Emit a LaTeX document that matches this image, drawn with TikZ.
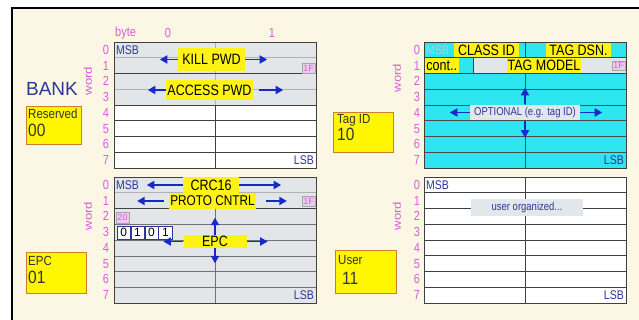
\documentclass[tikz,border=0pt]{standalone}
\usepackage{fontspec}
\setmainfont{Liberation Sans}
\usetikzlibrary{positioning, arrows.meta}

\definecolor{cream}{RGB}{252,246,229}
\definecolor{rowgray}{RGB}{226,230,233}
\definecolor{tagcyan}{RGB}{45,230,240}
\definecolor{hlyellow}{RGB}{255,242,20}
\definecolor{boxyellow}{RGB}{255,246,0}
\definecolor{boxedge}{RGB}{205,125,45}
\definecolor{textblue}{RGB}{45,55,150}
\definecolor{msbfade}{RGB}{195,195,225}
\definecolor{arrowblue}{RGB}{25,40,200}
\definecolor{wordmag}{RGB}{215,95,215}
\definecolor{pinkbg}{RGB}{236,205,236}
\definecolor{notegray}{RGB}{226,231,236}

\begin{document}
\begin{tikzpicture}[
    x=1pt, y=-1pt,
    grid/.style={draw=black!75, line width=0.8pt},
    faint/.style={draw=black!30, line width=0.5pt},
    midgrid/.style={draw=black!55, line width=0.5pt},
    cyangrid/.style={draw=black!70, line width=0.7pt},
    num/.style={text=wordmag, font=\fontsize{11}{11}\selectfont, inner sep=0pt, yscale=1.2},
    msb/.style={text=textblue, font=\fontsize{10.5}{10.5}\selectfont, inner sep=1pt, yscale=1.2},
    hl/.style={fill=hlyellow, font=\fontsize{12.5}{12.5}\selectfont, inner xsep=1pt, inner ysep=0pt, yscale=1.2},
    note/.style={fill=notegray, text=textblue, font=\fontsize{9.5}{9.5}\selectfont, inner sep=0pt, yscale=1.2},
    onef/.style={draw=black!35, fill=pinkbg, text=wordmag, font=\fontsize{9}{9}\selectfont,
                 inner sep=0pt, minimum width=13pt, minimum height=9.5pt},
    bit/.style={draw=textblue, line width=0.7pt, fill=white, font=\fontsize{12}{12}\selectfont,
                inner sep=0pt, minimum width=13.25pt, minimum height=13pt},
    bankbox/.style={draw=boxedge, fill=boxyellow, line width=1pt, anchor=north west, inner sep=0pt},
    boxtxt/.style={text=black!80, anchor=north west, inner sep=0pt, font=\fontsize{11.5}{11.5}\selectfont, yscale=1.15},
    boxnum/.style={boxtxt, font=\fontsize{15.5}{15.5}\selectfont},
    arrow/.style={-{Triangle[length=7.5pt, width=8pt]}, draw=arrowblue, line width=1.7pt}
]
  \useasboundingbox (0,0) rectangle (639,320);
  \fill[white] (0,0) rectangle (639,320);
  \fill[cream] (12,8) rectangle (639,320);
  \draw[line width=1.3pt] (12,320) -- (12,8) -- (639,8);

  % bank names
  \node[text=textblue, font=\fontsize{19}{19}\selectfont, inner sep=0pt] (bank) at (52,89) {BANK};
  \node[bankbox, minimum width=55pt, minimum height=38pt] (resbox) at (26,106) {};
  \node[boxtxt] (restxt) at (28,109) {Reserved};
  \node[boxnum] (resnum) at (28,124) {00};
  \node[bankbox, minimum width=60pt, minimum height=41pt] (epcbox) at (26,252) {};
  \node[boxtxt] (epctxt) at (28,256) {EPC};
  \node[boxnum] (epcnum) at (28,271) {01};
  \node[bankbox, minimum width=60pt, minimum height=40pt] (tidbox) at (333,112) {};
  \node[boxtxt] (tidtxt) at (337,114) {Tag ID};
  \node[boxnum] (tidnum) at (337,128) {10};
  \node[bankbox, minimum width=61pt, minimum height=43pt] (userbox) at (335,250) {};
  \node[boxtxt] (usertxt) at (338,255) {User};
  \node[boxnum] (usernum) at (342,272) {11};

  % byte and word numbering
  \node[num, anchor=west] (byte) at (115,33) {byte};
  \node[num] (byte0) at (168,33) {0};
  \node[num] (byte1) at (272,33) {1};
  \node[num, rotate=90] (worda) at (88,81) {word};
  \node[num, rotate=90] (wordb) at (88,216) {word};
  \node[num, rotate=90] (wordc) at (397,78) {word};
  \node[num, rotate=90] (wordd) at (397,216) {word};
  \foreach \i in {0,...,7} {
    \node[num] (na\i) at (106,{49.875+15.75*\i}) {\i};
    \node[num] (nb\i) at (106,{184.875+15.75*\i}) {\i};
    \node[num] (nc\i) at (417,{49.875+15.75*\i}) {\i};
    \node[num] (nd\i) at (417,{184.875+15.75*\i}) {\i};
  }

  % reserved memory
  \fill[rowgray] (114,42) rectangle (316,105);
  \fill[white] (114,105) rectangle (316,168);
  \draw[faint] (114,57.75) -- (316,57.75) (114,89.25) -- (316,89.25) (215,42) -- (215,105);
  \foreach \y in {73.5,105,120.75,136.5,152.25}
    \draw[grid] (114,\y) -- (316,\y);
  \draw[grid] (215,105) -- (215,168) (114,42) rectangle (316,168);
  \node[msb, anchor=west] (msba) at (115,49.9) {MSB};
  \node[hl, minimum width=67pt, minimum height=19pt] (kill) at (211.5,59.5) {KILL PWD};
  \node[hl, minimum width=87pt, minimum height=16.5pt] (access) at (209.5,90) {ACCESS PWD};
  \node[onef] (onefa) at (308.5,68) {1F};
  \node[msb, anchor=east] (lsba) at (315,160.1) {LSB};
  \coordinate[left=18pt of kill] (killL);
  \coordinate[right=22pt of kill] (killR);
  \coordinate[left=18pt of access] (accL);
  \coordinate[right=30pt of access] (accR);
  \draw[arrow] (kill.west) -- (killL);
  \draw[arrow] (kill.east) -- (killR);
  \draw[arrow] (access.west) -- (accL);
  \draw[arrow] ([xshift=6pt]access.east) -- (accR);

  % epc memory
  \fill[rowgray] (114,177) rectangle (316,303);
  \draw[faint] (114,192.75) -- (316,192.75);
  \draw[midgrid] (215,208.5) -- (215,303);
  \foreach \y in {224.25,240,255.75,271.5,287.25}
    \draw[midgrid] (114,\y) -- (316,\y);
  \draw[grid] (114,208.5) -- (316,208.5) (114,177) rectangle (316,303);
  \node[msb, anchor=west] (msbb) at (115,184.9) {MSB};
  \node[hl, minimum width=56pt, minimum height=13pt] (crc) at (211,185) {CRC16};
  \node[hl, minimum width=85pt, minimum height=13pt, font=\fontsize{11.8}{11.8}\selectfont] (proto) at (212.5,201) {PROTO CNTRL};
  \node[onef] (onefb) at (308.5,201) {1F};
  \node[onef, minimum height=11pt] (twenty) at (122.5,217.5) {20};
  \node[bit] (bit1) at (123.6,232.5) {0};
  \node[bit, right=0pt of bit1] (bit2) {1};
  \node[bit, right=0pt of bit2] (bit3) {0};
  \node[bit, right=0pt of bit3] (bit4) {1};
  \node[hl, minimum width=63pt, minimum height=11pt] (epc) at (215,241.5) {EPC};
  \node[msb, anchor=east] (lsbb) at (315,295.1) {LSB};
  \coordinate[left=36pt of crc] (crcL);
  \coordinate[right=42pt of crc] (crcR);
  \coordinate[left=32pt of proto] (protoL);
  \coordinate[right=31pt of proto] (protoR);
  \coordinate[left=20pt of epc] (epcL);
  \coordinate[right=21pt of epc] (epcR);
  \coordinate[above=17pt of epc] (epcU);
  \coordinate[below=15pt of epc] (epcD);
  \draw[arrow] (crc.west) -- (crcL);
  \draw[arrow] (crc.east) -- (crcR);
  \draw[arrow] ([xshift=-5pt]proto.west) -- (protoL);
  \draw[arrow] ([xshift=10pt]proto.east) -- (protoR);
  \draw[arrow] (epc.west) -- (epcL);
  \draw[arrow] (epc.east) -- (epcR);
  \draw[arrow] (epc.north) -- (epcU);
  \draw[arrow] (epc.south) -- (epcD);

  % tid memory
  \fill[tagcyan] (424,42) rectangle (626,168);
  \fill[rowgray] (473,57.75) rectangle (626,73.5);
  \foreach \y in {89.25,105,120.75,136.5,152.25}
    \draw[cyangrid] (424,\y) -- (626,\y);
  \draw[cyangrid] (525,73.5) -- (525,168);
  \node[msb, anchor=west, text=msbfade] (msbc) at (425,49.9) {MSB};
  \node[hl, minimum width=65pt, minimum height=13pt] (classid) at (486.5,49.9) {CLASS ID};
  \node[hl, minimum width=65pt, minimum height=13pt] (tagdsn) at (578.5,49.9) {TAG DSN.};
  \node[hl, anchor=west, minimum width=35pt, minimum height=13pt] (cont) at (424,65.6) {cont..};
  \node[hl, minimum width=73pt, minimum height=13pt] (tagmodel) at (544,65.6) {TAG MODEL};
  \node[onef] (onefc) at (618.5,65.6) {1F};
  \draw[grid] (424,57.75) -- (626,57.75) (424,73.5) -- (626,73.5)
              (525,42) -- (525,57.75) (473,57.75) -- (473,73.5) (424,42) rectangle (626,168);
  \node[note, minimum width=110pt, minimum height=13.3pt] (optional) at (525,112.5) {OPTIONAL (e.g. tag ID)};
  \node[msb, anchor=east] (lsbc) at (625,160.1) {LSB};
  \coordinate[left=20pt of optional] (optL);
  \coordinate[right=22pt of optional] (optR);
  \coordinate[above=16.5pt of optional] (optU);
  \coordinate[below=17pt of optional] (optD);
  \draw[arrow] (optional.west) -- (optL);
  \draw[arrow] (optional.east) -- (optR);
  \draw[arrow] (optional.north) -- (optU);
  \draw[arrow] (optional.south) -- (optD);

  % user memory
  \fill[white] (424,177) rectangle (626,303);
  \foreach \y in {192.75,208.5,224.25,240,255.75,271.5,287.25}
    \draw[grid] (424,\y) -- (626,\y);
  \draw[grid] (525,177) -- (525,303) (424,177) rectangle (626,303);
  \node[msb, anchor=west] (msbd) at (425,184.9) {MSB};
  \node[note, minimum width=112pt, minimum height=14pt] (userorg) at (527,207.5) {user organized...};
  \node[msb, anchor=east] (lsbd) at (625,295.1) {LSB};
\end{tikzpicture}
\end{document}
